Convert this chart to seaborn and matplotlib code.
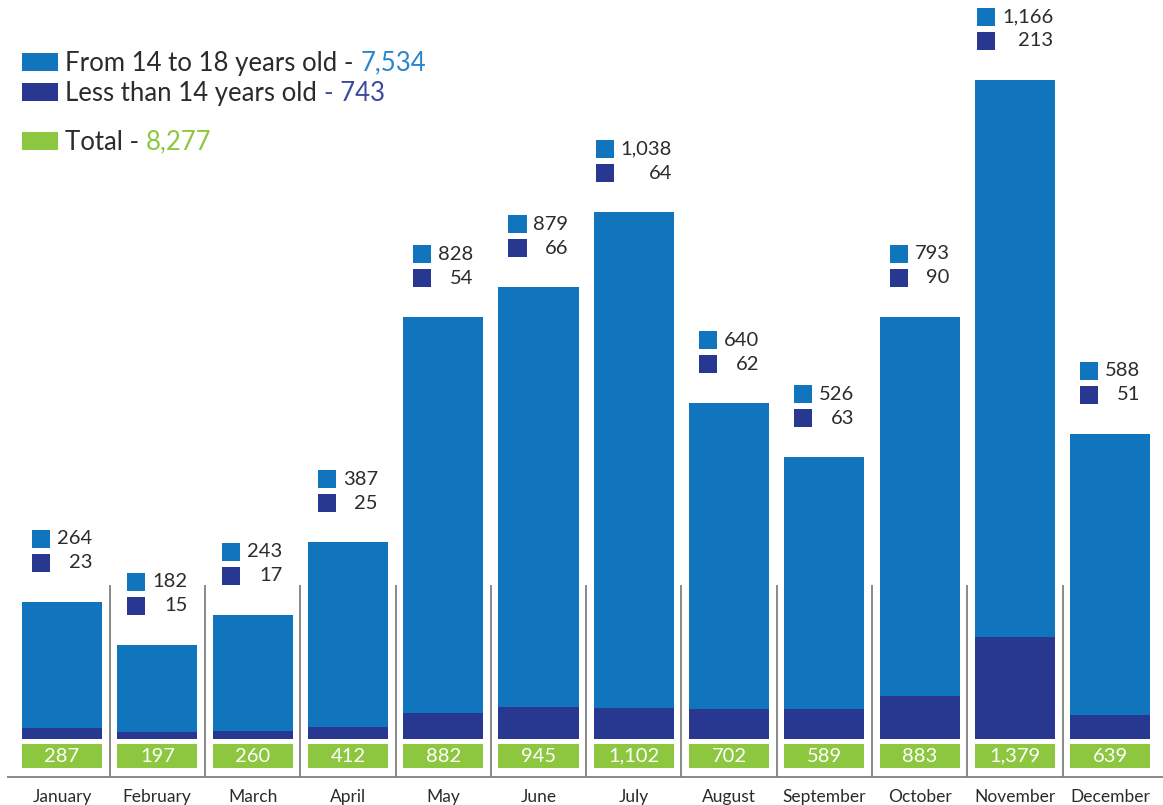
import matplotlib.pyplot as plt
import seaborn as sns
import pandas as pd
from matplotlib.patches import Rectangle

months = ["January", "February", "March", "April", "May", "June", "July",
          "August", "September", "October", "November", "December"]
age_14_18 = [264, 182, 243, 387, 828, 879, 1038, 640, 526, 793, 1166, 588]
under_14 = [23, 15, 17, 25, 54, 66, 64, 62, 63, 90, 213, 51]

BLUE = "#1075bc"
NAVY = "#283891"
GREEN = "#8dc63f"
TEXT = "#2b2b2b"

df = pd.DataFrame({"month": months, "age_14_18": age_14_18, "under_14": under_14})
df["total"] = df["age_14_18"] + df["under_14"]

sns.set_style("white")
plt.rcParams["font.family"] = ["Lato", "DejaVu Sans"]

fig = plt.figure(figsize=(11.63, 8.05), dpi=100)
ax = fig.add_axes([0, 0, 1, 1])

# pixel layout helpers (axes fills the whole figure)
PITCH, X0, BASE, SCALE = 95.3, 62, 739, 0.478


def px_x(p):
    return (p - X0) / PITCH


def px_y(p):
    return (BASE - p) / SCALE


# stacked bars: total in blue, under 14 on top in navy
sns.barplot(data=df, x="month", y="total", color=BLUE, width=0.84, saturation=1,
            errorbar=None, linewidth=0, ax=ax)
sns.barplot(data=df, x="month", y="under_14", color=NAVY, width=0.84, saturation=1,
            errorbar=None, linewidth=0, ax=ax)

ax.set_xlim(px_x(0), px_x(1163))
ax.set_ylim(px_y(805), px_y(0))
ax.axis("off")

n = len(months)
xs = list(range(n))

# green total boxes
ax.bar(xs, height=24 / SCALE, bottom=px_y(768), width=0.84, color=GREEN, linewidth=0)
for i, tot in enumerate(df["total"]):
    ax.text(i, px_y(756), f"{tot:,}", ha="center", va="center", color="white", fontsize=14.5)

# separators and baseline
ax.vlines([i + 0.5 for i in range(n - 1)], px_y(777), px_y(585), color="#808080", lw=1.3)
ax.hlines(px_y(777), px_x(7), px_x(1163), color="#808080", lw=1.3)

for i, m in enumerate(months):
    ax.text(i, px_y(797), m, ha="center", va="center", color=TEXT, fontsize=12.5)

# value labels above bars
fig.canvas.draw()
renderer = fig.canvas.get_renderer()
for i, row in df.iterrows():
    top = BASE - row["total"] * SCALE
    t1 = ax.text(0, px_y(top - 63), f"{row['age_14_18']:,}", ha="right", va="center",
                 color=TEXT, fontsize=14.5)
    t2 = ax.text(0, px_y(top - 39), f"{row['under_14']:,}", ha="right", va="center",
                 color=TEXT, fontsize=14.5)
    w = t1.get_window_extent(renderer).width
    W = 18 + 7 + w
    cx = X0 + i * PITCH
    left = cx - W / 2
    t1.set_x(px_x(left + W))
    t2.set_x(px_x(left + W))
    for yc, c in [(top - 63, BLUE), (top - 39, NAVY)]:
        ax.add_patch(Rectangle((px_x(left), px_y(yc + 9)), 18 / PITCH, 18 / SCALE,
                               color=c, lw=0))

# legend
legend_rows = [
    (62, BLUE, "From 14 to 18 years old - ", f"{sum(age_14_18):,}", "#2a86cc"),
    (92, NAVY, "Less than 14 years old ", f"- {sum(under_14):,}", "#3a4aa0"),
    (141, GREEN, "Total - ", f"{sum(age_14_18) + sum(under_14):,}", GREEN),
]
for yc, c, label, val, vcol in legend_rows:
    ax.add_patch(Rectangle((px_x(22), px_y(yc + 9)), 36 / PITCH, 18 / SCALE, color=c, lw=0))
    t = ax.text(px_x(65), px_y(yc + 1), label, ha="left", va="center", color=TEXT, fontsize=18.5)
    ax.annotate(val, xy=(1, 0), xycoords=t, ha="left", va="bottom", color=vcol, fontsize=18.5)

fig.savefig("out.png", dpi=100)
